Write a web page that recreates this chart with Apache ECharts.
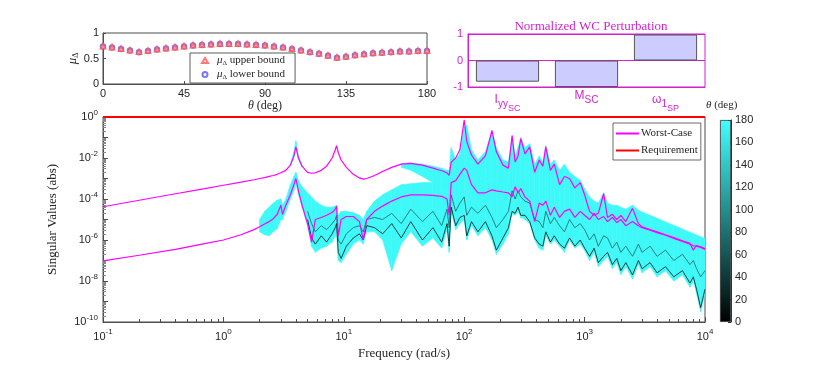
<!DOCTYPE html>
<html>
<head>
<meta charset="utf-8">
<script src="https://cdn.jsdelivr.net/npm/echarts@6/dist/echarts.min.js"></script>
<style>
html, body { margin: 0; padding: 0; background: #fff; }
#chart { width: 830px; height: 380px; }
</style>
</head>
<body>
<div id="chart"></div>
<script>
// --- mu bounds vs theta (top left)
const thetaDeg = [0, 5, 10, 15, 20, 25, 30, 35, 40, 45, 50, 55, 60, 65, 70, 75, 80, 85, 90,
  95, 100, 105, 110, 115, 120, 125, 130, 135, 140, 145, 150, 155, 160, 165, 170, 175, 180]
const muUpper = [0.74, 0.72, 0.69, 0.66, 0.63, 0.65, 0.68, 0.70, 0.72, 0.74, 0.76, 0.77, 0.78, 0.79, 0.79, 0.79, 0.78, 0.77, 0.76,
  0.74, 0.72, 0.69, 0.66, 0.63, 0.60, 0.56, 0.52, 0.54, 0.57, 0.59, 0.61, 0.62, 0.63, 0.64, 0.64, 0.65, 0.65]
const muLower = [0.735, 0.715, 0.685, 0.655, 0.625, 0.645, 0.675, 0.695, 0.715, 0.735, 0.755, 0.765, 0.775, 0.785, 0.785, 0.785, 0.775, 0.765, 0.755,
  0.735, 0.715, 0.685, 0.655, 0.625, 0.595, 0.555, 0.515, 0.535, 0.565, 0.585, 0.605, 0.615, 0.625, 0.635, 0.635, 0.645, 0.645]

// --- normalized worst-case perturbation (top right)
const perturbNames = ['I_yy_SC', 'M_SC', 'ω_1_SP']
const perturbValues = [-0.8, -1.0, 0.98]

// --- singular values (bottom), frequency in rad/s
const freq = [0.1, 0.2, 0.4, 0.7, 1, 1.4, 1.8, 2.0, 2.2, 2.4,
  2.6, 2.8, 3.0, 3.1, 3.3, 3.6, 3.85, 4.0, 4.2, 4.5,
  5.0, 5.4, 5.8, 6.5, 7.2, 8.0, 8.5, 8.7, 9.0, 9.5,
  10.5, 12, 13.5, 14.5, 15.5, 18, 21, 25, 30, 36,
  45, 55, 65, 72, 75, 78, 85, 92, 100, 105,
  115, 130, 150, 170, 185, 210, 233, 250, 265, 280,
  295, 320, 350, 385, 420, 450, 476, 520, 560, 620,
  680, 750, 830, 920, 1000, 1100, 1200, 1300, 1440, 1550,
  1700, 1850, 2000, 2200, 2500, 2800, 3000, 3500, 4000, 4700,
  5500, 6500, 7500, 8000, 8500, 9200, 10000]

const wcUpper = [4.2e-5, 8.7e-5, 1.8e-4, 3.2e-4, 4.7e-4, 6.6e-4, 8.7e-4, 1.0e-3, 1.1e-3, 1.26e-3,
  1.4e-3, 1.6e-3, 1.9e-3, 2.0e-3, 2.5e-3, 4.5e-3, 1.26e-2, 3.5e-2, 1.0e-2, 4.0e-3,
  2.0e-3, 1.8e-3, 1.9e-3, 2.5e-3, 4.0e-3, 1.0e-2, 2.5e-2, 4.0e-2, 1.8e-2, 8.0e-3,
  3.5e-3, 1.6e-3, 1.07e-3, 9.3e-4, 1.0e-3, 1.4e-3, 2.2e-3, 3.5e-3, 5.0e-3, 5.5e-3,
  4.5e-3, 3.2e-3, 2.4e-3, 1.9e-3, 1.4e-3, 6.3e-3, 1.0e-2, 2.5e-2, 0.71, 6.3e-2,
  1.4e-2, 5.0e-3, 1.26e-2, 0.22, 2.0e-2, 4.5e-3, 3.2e-3, 0.126, 6.3e-3, 1.26e-2,
  8.9e-2, 1.6e-2, 3.5e-2, 2.0e-3, 8.0e-3, 4.0e-3, 3.5e-2, 2.5e-3, 5.0e-3, 5.0e-4,
  1.26e-3, 1.0e-3, 3.5e-4, 6.3e-4, 1.6e-4, 2.5e-5, 1.6e-5, 2.0e-5, 1.8e-4, 1.26e-5,
  1.8e-5, 1.0e-5, 1.6e-5, 7.9e-6, 3.5e-5, 6.3e-6, 4.4e-6, 3.2e-6, 2.5e-6, 1.8e-6,
  1.3e-6, 9.1e-7, 6.8e-7, 3.2e-7, 5.4e-7, 4.6e-7, 3.8e-7]

const wcLower = [9.5e-8, 1.8e-7, 3.5e-7, 6.6e-7, 1.0e-6, 1.8e-6, 3.2e-6, 4.4e-6, 6.0e-6, 7.9e-6,
  1.1e-5, 1.8e-5, 5.0e-5, 1.8e-5, 5.0e-5, 1.6e-4, 5.0e-4, 1.0e-3, 2.5e-4, 5.0e-5,
  6.3e-6, 7.9e-7, 1.0e-5, 1.26e-5, 1.6e-5, 2.2e-5, 3.2e-5, 4.5e-5, 1.6e-6, 1.0e-5,
  1.4e-5, 1.4e-5, 7.9e-6, 1.0e-6, 1.0e-5, 2.5e-5, 4.5e-5, 7.9e-5, 1.26e-4, 1.6e-4,
  1.6e-4, 1.5e-4, 1.35e-4, 1.0e-4, 1.6e-5, 6.3e-4, 7.9e-4, 1.6e-3, 3.2e-3, 2.5e-3,
  5.0e-4, 2.0e-4, 2.0e-4, 2.8e-4, 2.5e-4, 2.2e-4, 2.0e-4, 1.26e-4, 4.0e-4, 2.0e-4,
  3.2e-4, 1.26e-4, 7.9e-5, 7.9e-6, 6.3e-5, 5.0e-5, 7.9e-5, 1.6e-5, 4.0e-5, 1.26e-5,
  2.5e-5, 3.2e-5, 1.26e-5, 2.5e-5, 1.6e-5, 1.0e-5, 2.0e-5, 1.0e-5, 1.4e-5, 7.9e-6,
  1.26e-5, 7.1e-6, 1.0e-5, 5.0e-6, 7.9e-6, 5.0e-6, 4.0e-6, 3.0e-6, 2.3e-6, 1.7e-6,
  1.2e-6, 8.5e-7, 6.3e-7, 5.2e-7, 5.0e-7, 4.3e-7, 3.5e-7]

// envelope of the theta sweep, lower branch (from freq[7] = 2 rad/s on)
const bandStart = 7
const bandLowTop = [1.0e-5, 2.5e-5, 4.0e-5,
  6.3e-5, 8.9e-5, 1.0e-4, 5.0e-5, 1.0e-4, 5.0e-4, 1.26e-3, 2.0e-3, 7.9e-4, 4.0e-4,
  2.0e-4, 1.26e-4, 7.9e-5, 5.0e-5, 4.0e-5, 4.0e-5, 4.5e-5, 5.0e-5, 1.6e-5, 2.5e-5,
  2.5e-5, 2.2e-5, 1.6e-5, 1.0e-5, 2.5e-5, 7.9e-5, 1.6e-4, 2.8e-4, 5.0e-4, 5.6e-4,
  6.3e-4, 6.3e-4, 5.6e-4, 5.0e-4, 5.0e-4, 2.5e-3, 1.0e-3, 1.26e-3, 4.0e-3, 2.5e-3,
  1.0e-3, 5.0e-4, 6.3e-4, 1.0e-3, 6.3e-4, 5.0e-4, 4.0e-4, 0.1, 1.26e-2, 3.2e-2,
  0.1, 3.2e-2, 5.0e-2, 5.0e-3, 1.26e-2, 6.3e-3, 4.0e-2, 5.0e-3, 7.9e-3, 2.5e-3,
  5.0e-3, 2.0e-3, 1.26e-3, 7.9e-4, 3.2e-4, 1.26e-4, 7.9e-5, 6.3e-5, 2.0e-4, 6.3e-5,
  5.0e-5, 5.0e-5, 4.0e-5, 3.2e-5, 5.0e-5, 2.8e-5, 2.35e-5, 1.6e-5, 1.15e-5, 7.6e-6,
  5.2e-6, 3.4e-6, 2.4e-6, 2.04e-6, 1.74e-6, 1.45e-6, 1.17e-6]
const bandLowBottom = [2.5e-6, 1.8e-6, 1.6e-6,
  2.5e-6, 3.5e-6, 1.0e-5, 1.0e-5, 2.5e-5, 1.0e-4, 2.5e-4, 6.3e-4, 1.6e-4, 4.0e-5,
  5.0e-6, 5.0e-7, 2.5e-7, 4.0e-7, 5.0e-7, 7.9e-7, 1.6e-6, 2.5e-6, 1.0e-7, 7.9e-8,
  2.0e-7, 6.3e-7, 1.0e-6, 6.3e-7, 2.5e-6, 2.5e-6, 1.0e-6, 3.2e-8, 6.3e-7, 2.5e-6,
  5.0e-7, 1.26e-6, 4.0e-7, 3.2e-6, 2.5e-7, 2.5e-5, 3.2e-6, 6.3e-6, 1.0e-5, 1.0e-6,
  5.0e-6, 1.6e-6, 4.0e-6, 1.0e-6, 2.0e-7, 6.3e-7, 2.0e-6, 2.0e-5, 1.6e-5, 2.5e-5,
  1.26e-5, 1.0e-5, 6.3e-6, 1.0e-6, 4.0e-7, 3.2e-7, 1.6e-6, 6.3e-7, 1.0e-6, 5.0e-7,
  2.5e-7, 1.0e-6, 4.0e-7, 6.3e-7, 3.2e-7, 1.0e-7, 2.5e-7, 5.0e-8, 1.0e-7, 1.6e-7,
  4.0e-8, 7.9e-8, 2.0e-8, 5.0e-8, 1.26e-8, 6.3e-8, 2.5e-8, 5.0e-8, 1.6e-8, 3.2e-8,
  1.0e-8, 2.0e-8, 5.0e-9, 1.0e-8, 2.5e-9, 3.2e-10, 2.5e-9]

// envelope of the theta sweep, upper branch (full grid, null where it sits on the worst case)
const gap = n => Array(n).fill(null)
const bandUpTop = [...gap(15), 5.0e-3, 2.0e-2, 6.8e-2, 1.26e-2, 4.5e-3, ...gap(18),
  5.2e-3, 5.75e-3, 5.0e-3, 4.0e-3, 3.2e-3, 2.5e-3, 2.5e-3, 3.2e-2, 7.9e-3, 1.6e-2,
  0.32, 0.4, 2.5e-2, 7.9e-3, 2.0e-2, 0.2, 3.2e-2, 7.9e-3, 6.3e-3, 0.1, ...gap(39)]
const bandUpBottom = [...gap(15), 4.0e-3, 1.1e-2, 3.2e-2, 8.9e-3, 3.5e-3, ...gap(18),
  3.5e-3, 2.5e-3, 1.26e-3, 6.3e-4, 4.0e-4, 3.2e-4, 2.5e-4, 5.0e-4, 1.0e-3, 1.26e-3,
  4.0e-3, 2.5e-3, 1.0e-3, 5.0e-4, 6.3e-4, 1.0e-3, 6.3e-4, 4.0e-4, 3.2e-4, 1.0e-3, ...gap(39)]

// two of the swept curves that show through (from freq[20] = 5 rad/s on)
const curveStart = 20
const curveThetas = [15, 70]
const curveTheta15 = [1.0e-5, 1.26e-6, 6.3e-7, 1.6e-6, 7.9e-7, 2.0e-6, 4.0e-6, 6.3e-6, 2.5e-7, 1.26e-7,
  5.0e-7, 1.26e-6, 2.0e-6, 1.0e-6, 5.0e-6, 4.0e-6, 2.0e-6, 6.3e-6, 1.26e-6, 7.9e-6,
  1.0e-6, 4.0e-6, 7.9e-7, 6.3e-6, 5.0e-7, 4.0e-5, 5.0e-6, 1.26e-5, 1.6e-5, 1.6e-6,
  7.9e-6, 2.5e-6, 7.9e-6, 1.6e-6, 3.2e-7, 1.26e-6, 4.0e-6, 2.5e-5, 2.0e-5, 4.0e-5,
  1.6e-5, 1.6e-5, 7.9e-6, 1.26e-6, 6.3e-7, 5.0e-7, 2.5e-6, 7.9e-7, 1.6e-6, 6.3e-7,
  4.0e-7, 1.26e-6, 5.0e-7, 1.0e-6, 4.0e-7, 1.6e-7, 4.0e-7, 7.9e-8, 1.6e-7, 2.5e-7,
  6.3e-8, 1.26e-7, 3.2e-8, 7.9e-8, 2.0e-8, 1.0e-7, 4.0e-8, 7.9e-8, 2.5e-8, 5.0e-8,
  1.6e-8, 3.2e-8, 7.9e-9, 1.6e-8, 4.0e-9, 5.0e-10, 4.0e-9]
const curveTheta70 = [2.5e-5, 6.3e-6, 2.5e-6, 5.0e-6, 3.2e-6, 6.3e-6, 1.0e-5, 1.6e-5, 1.0e-6, 6.3e-7,
  2.0e-6, 4.0e-6, 5.0e-6, 2.5e-6, 1.0e-5, 1.26e-5, 1.0e-5, 2.0e-5, 6.3e-6, 3.2e-5,
  7.9e-6, 2.5e-5, 5.0e-6, 3.2e-5, 4.0e-6, 1.6e-4, 2.5e-5, 6.3e-5, 1.26e-4, 1.6e-5,
  4.0e-5, 2.0e-5, 5.0e-5, 1.26e-5, 4.0e-6, 1.0e-5, 2.5e-5, 2.5e-4, 1.0e-4, 2.5e-4,
  1.26e-4, 7.9e-5, 6.3e-5, 1.0e-5, 7.9e-6, 4.0e-6, 2.5e-5, 6.3e-6, 1.26e-5, 5.0e-6,
  2.5e-6, 1.0e-5, 4.0e-6, 6.3e-6, 3.2e-6, 1.0e-6, 2.0e-6, 5.0e-7, 1.6e-6, 1.26e-6,
  4.0e-7, 7.9e-7, 2.5e-7, 5.0e-7, 1.6e-7, 6.3e-7, 2.5e-7, 5.0e-7, 1.6e-7, 3.2e-7,
  1.0e-7, 2.0e-7, 6.3e-8, 1.0e-7, 4.0e-8, 1.6e-8, 3.2e-8]

const reqFreq = [0.1, 10000]
const reqValue = [1, 1]
const thetaMax = [180]

// --- styling
const SERIF = "'Liberation Serif', 'DejaVu Serif', serif"
const SANS = "'Liberation Sans', Arial, sans-serif"
const MAGENTA = '#d21fd2'
const AXIS = '#4d4d4d'
const TXT = '#262626'
const cyanEnd = [64, 255, 255]
const thetaColor = t => 'rgb(' + cyanEnd.map(c => Math.round(c * t / 180)).join(',') + ')'
const BAND = thetaColor(176)

const chart = echarts.init(document.getElementById('chart'), null, { renderer: 'canvas' })

const pairs = (f, v) => f.map((x, i) => [x, v[i] == null ? null : v[i]])

const bandSeries = (f, top, bot) => ({
  type: 'custom',
  xAxisIndex: 2, yAxisIndex: 2,
  silent: true, z: 1, clip: true,
  data: f.map((x, i) => [x, top[i], bot[i]]),
  encode: { x: 0, y: [1, 2] },
  renderItem: (params, api) => {
    const i = params.dataIndex
    if (i >= f.length - 1) return
    if ([top[i], top[i + 1], bot[i], bot[i + 1]].some(v => v == null)) return
    const pts = [
      api.coord([f[i], top[i]]), api.coord([f[i + 1], top[i + 1]]),
      api.coord([f[i + 1], bot[i + 1]]), api.coord([f[i], bot[i]])
    ]
    return { type: 'polygon', shape: { points: pts }, style: { fill: BAND, stroke: BAND, lineWidth: 0.6 } }
  }
})

const lineSeries = (name, f, v, color, width, z) => ({
  name, type: 'line', xAxisIndex: 2, yAxisIndex: 2,
  data: pairs(f, v), symbol: 'none', showSymbol: false, silent: true, z,
  lineStyle: { color, width }, itemStyle: { color }
})

const expLabel = v => {
  const e = Math.round(Math.log10(v))
  return '{b|10}{e|' + e + '}'
}
const expRich = {
  b: { fontFamily: SANS, fontSize: 11, color: TXT },
  e: { fontFamily: SANS, fontSize: 8, color: TXT, padding: [0, 0, 9, 0] }
}

const option = {
  animation: false,
  title: {
    text: 'Normalized WC Perturbation', left: 586, top: 15, textAlign: 'center',
    textStyle: { fontFamily: SERIF, fontSize: 13, fontWeight: 'normal', color: MAGENTA }
  },
  grid: [
    { left: 103, top: 33, width: 324, height: 51, show: true, borderColor: AXIS, borderWidth: 1 },
    { left: 468, top: 34, width: 237, height: 53, show: true, borderColor: MAGENTA, borderWidth: 1 },
    { left: 103, top: 117, width: 602, height: 205, show: true, borderColor: AXIS, borderWidth: 1 },
    { left: 720, top: 120, width: 11, height: 202 }
  ],
  legend: [
    {
      data: ['upper bound', 'lower bound'], left: 190, top: 53, orient: 'vertical',
      itemGap: 2, itemWidth: 6, itemHeight: 5, padding: [2, 10, 2, 11],
      borderColor: '#333', borderWidth: 0.8, backgroundColor: '#fff',
      formatter: n => '{m|μ}{d|Δ} ' + n,
      textStyle: {
        fontFamily: SERIF, fontSize: 11, color: TXT, padding: [0, 0, 0, 4],
        rich: {
          m: { fontFamily: SERIF, fontStyle: 'italic', fontSize: 11, color: TXT },
          d: { fontFamily: SERIF, fontSize: 7, color: TXT, padding: [6, 0, 0, 0] }
        }
      }
    },
    {
      data: ['Worst-Case', 'Requirement'], left: 613, top: 123, orient: 'vertical',
      icon: 'rect', itemGap: 6, itemWidth: 23, itemHeight: 2, padding: [5, 3, 4, 3],
      borderColor: '#444', borderWidth: 0.8, backgroundColor: '#fff',
      textStyle: { fontFamily: SERIF, fontSize: 11, color: TXT, padding: [0, 0, 0, -3] }
    }
  ],
  xAxis: [
    {
      gridIndex: 0, type: 'value', min: 0, max: 180, interval: 45,
      axisLine: { lineStyle: { color: AXIS } },
      axisTick: { inside: true, length: 3, lineStyle: { color: AXIS } },
      splitLine: { show: false },
      axisLabel: { fontFamily: SANS, fontSize: 11, color: TXT, margin: 4 },
      name: '{i|θ} (deg)', nameLocation: 'middle', nameGap: 16,
      nameTextStyle: { fontFamily: SERIF, fontSize: 12, color: TXT, rich: { i: { fontFamily: SERIF, fontStyle: 'italic', fontSize: 12, color: TXT } } }
    },
    {
      gridIndex: 1, type: 'category', data: perturbNames,
      axisLine: { onZero: false, lineStyle: { color: MAGENTA } },
      axisTick: { show: false },
      axisLabel: {
        margin: -1, interval: 0,
        formatter: n => {
          const p = n.split('_')
          return '{m|' + p[0] + '}' + (p[1] ? '{s1|' + p[1] + '}' : '') + (p[2] ? '{s2|' + p[2] + '}' : '')
        },
        rich: {
          m: { fontFamily: SANS, fontSize: 12, color: MAGENTA },
          s1: { fontFamily: SANS, fontSize: 10, color: MAGENTA, padding: [9, 0, 0, 0] },
          s2: { fontFamily: SANS, fontSize: 9, color: MAGENTA, padding: [18, 0, 0, 0] }
        }
      }
    },
    {
      gridIndex: 2, type: 'log', logBase: 10, min: 0.1, max: 10000,
      axisLine: { lineStyle: { color: AXIS } },
      axisTick: { inside: true, length: 5, lineStyle: { color: AXIS } },
      minorTick: { show: true, splitNumber: 9, length: 3, lineStyle: { color: AXIS } },
      splitLine: { show: false },
      axisLabel: { formatter: expLabel, rich: expRich, margin: 6 },
      name: 'Frequency (rad/s)', nameLocation: 'middle', nameGap: 25,
      nameTextStyle: { fontFamily: SERIF, fontSize: 13, color: TXT }
    },
    { gridIndex: 3, type: 'category', data: ['θ'], show: false }
  ],
  yAxis: [
    {
      gridIndex: 0, type: 'value', min: 0, max: 1, interval: 0.5,
      axisLine: { show: true, lineStyle: { color: AXIS } },
      axisTick: { show: true, inside: true, length: 3, lineStyle: { color: AXIS } },
      splitLine: { show: false },
      axisLabel: { fontFamily: SANS, fontSize: 11, color: TXT, margin: 4 },
      name: '{m|μ}{d|Δ}', nameLocation: 'middle', nameGap: 20, nameRotate: 90,
      nameTextStyle: {
        rich: {
          m: { fontFamily: SERIF, fontStyle: 'italic', fontSize: 13, color: TXT },
          d: { fontFamily: SERIF, fontSize: 8, color: TXT, padding: [7, 0, 0, 0] }
        }
      }
    },
    {
      // split lines give the zero line; the ones at +-1 sit on the box
      gridIndex: 1, type: 'value', min: -1, max: 1, interval: 1,
      axisLine: { show: true, lineStyle: { color: MAGENTA } },
      axisTick: { show: true, inside: true, length: 3, lineStyle: { color: MAGENTA } },
      splitLine: { show: true, lineStyle: { color: MAGENTA, width: 1, type: 'solid' } },
      axisLabel: { fontFamily: SANS, fontSize: 11, color: MAGENTA, margin: 5 }
    },
    {
      gridIndex: 2, type: 'log', logBase: 10, min: 1e-10, max: 1, interval: 1,
      axisLine: { show: true, lineStyle: { color: AXIS } },
      axisTick: { show: true, inside: true, length: 5, lineStyle: { color: AXIS } },
      minorTick: { show: true, splitNumber: 9, length: 3, lineStyle: { color: '#888' } },
      splitLine: { show: false },
      axisLabel: {
        formatter: v => (Math.round(Math.log10(v)) % 2 === 0 ? expLabel(v) : ''),
        rich: expRich, margin: 5
      },
      name: 'Singular Values (abs)', nameLocation: 'middle', nameGap: 44,
      nameTextStyle: { fontFamily: SERIF, fontSize: 13, color: TXT }
    },
    {
      gridIndex: 3, type: 'value', min: 0, max: 180, interval: 20, position: 'right',
      axisLine: { show: true, lineStyle: { color: '#333' } },
      axisTick: { show: true, inside: true, length: 3, lineStyle: { color: '#333' } },
      splitLine: { show: false },
      axisLabel: { fontFamily: SANS, fontSize: 11, color: TXT, margin: 4 }
    }
  ],
  graphic: [
    {
      type: 'text', left: 706, top: 100, silent: true,
      style: {
        text: '{i|θ} (deg)', fill: TXT, font: '11px ' + SERIF,
        rich: { i: { fontFamily: SERIF, fontStyle: 'italic', fontSize: 11, fill: TXT } }
      }
    }
  ],
  series: [
    {
      name: 'upper bound', type: 'scatter', xAxisIndex: 0, yAxisIndex: 0,
      data: thetaDeg.map((t, i) => [t, muUpper[i]]),
      symbol: 'emptyTriangle', symbolSize: 4.5, itemStyle: { color: '#ff5555', borderWidth: 0.7 }, z: 3
    },
    {
      name: 'lower bound', type: 'scatter', xAxisIndex: 0, yAxisIndex: 0,
      data: thetaDeg.map((t, i) => [t, muLower[i]]),
      symbol: 'emptyCircle', symbolSize: 4.5, itemStyle: { color: '#5555ff', borderWidth: 0.7 }, z: 2
    },
    {
      type: 'bar', xAxisIndex: 1, yAxisIndex: 1, data: perturbValues, barWidth: '80%',
      itemStyle: { color: '#ccccff', borderColor: '#555', borderWidth: 1 }
    },
    bandSeries(freq.slice(bandStart), bandLowTop, bandLowBottom),
    bandSeries(freq, bandUpTop, bandUpBottom),
    lineSeries('θ = ' + curveThetas[1], freq.slice(curveStart), curveTheta70, thetaColor(curveThetas[1]), 0.8, 2),
    lineSeries('θ = ' + curveThetas[0], freq.slice(curveStart), curveTheta15, thetaColor(curveThetas[0]), 0.8, 2),
    lineSeries('Worst-Case', freq, wcUpper, '#ff00ff', 1.2, 4),
    lineSeries('Worst-Case', freq, wcLower, '#ff00ff', 1.2, 4),
    lineSeries('Requirement', reqFreq, reqValue, '#ff0000', 2, 5),
    {
      type: 'bar', xAxisIndex: 3, yAxisIndex: 3, data: thetaMax, barWidth: '100%', silent: true,
      itemStyle: {
        color: new echarts.graphic.LinearGradient(0, 0, 0, 1, [
          { offset: 0, color: thetaColor(180) },
          { offset: 1, color: thetaColor(0) }
        ]),
        borderColor: '#333', borderWidth: 0.8
      }
    }
  ]
}

chart.setOption(option)
</script>
</body>
</html>
